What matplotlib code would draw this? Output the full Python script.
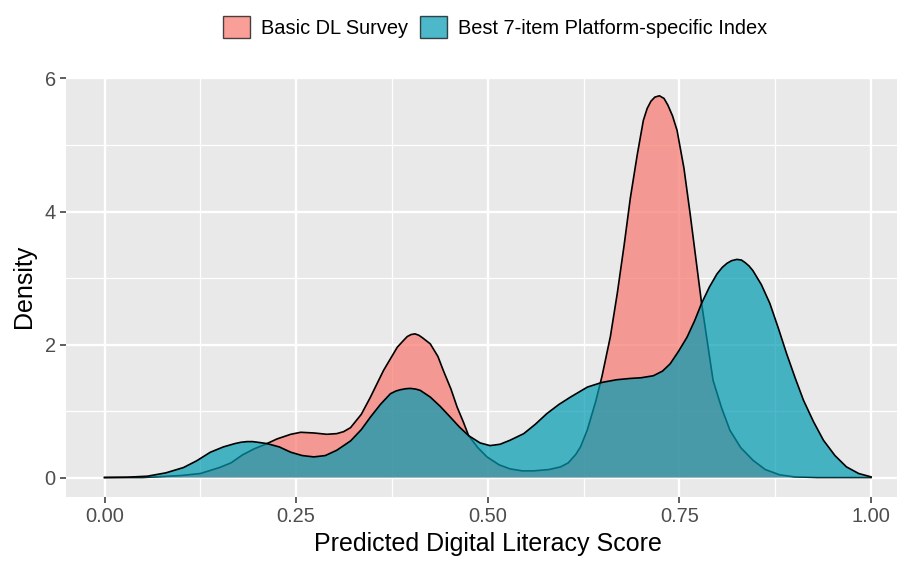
import matplotlib
matplotlib.use("Agg")
import matplotlib.pyplot as plt
from matplotlib.patches import Patch
import numpy as np

plt.rcParams['font.family'] = ['Liberation Sans', 'DejaVu Sans']

series_names = ["Basic DL Survey", "Best 7-item Platform-specific Index"]

basic_x = [0.00, 0.05, 0.10, 0.125, 0.15, 0.165, 0.18, 0.195, 0.21, 0.225, 0.243, 0.256,
           0.273, 0.29, 0.303, 0.312, 0.321, 0.335, 0.347, 0.364, 0.382, 0.390, 0.395, 0.400,
           0.405, 0.410, 0.415, 0.425, 0.435, 0.442, 0.452, 0.460, 0.468, 0.475, 0.487,
           0.499, 0.515, 0.529, 0.545, 0.56, 0.58, 0.595, 0.605, 0.615, 0.621, 0.63, 0.641,
           0.649, 0.66, 0.669, 0.678, 0.686, 0.695, 0.703, 0.708, 0.713, 0.718, 0.724,
           0.730, 0.735, 0.741, 0.747, 0.756, 0.764, 0.772, 0.779, 0.787, 0.794, 0.805,
           0.816, 0.83, 0.846, 0.862, 0.881, 0.90, 0.93, 1.00]
basic_y = [0.00, 0.00, 0.03, 0.06, 0.15, 0.22, 0.34, 0.43, 0.50, 0.58, 0.65, 0.68,
           0.67, 0.65, 0.66, 0.69, 0.75, 0.95, 1.21, 1.61, 1.96, 2.06, 2.12, 2.15,
           2.16, 2.14, 2.10, 2.01, 1.82, 1.61, 1.33, 1.06, 0.84, 0.63, 0.45,
           0.31, 0.19, 0.13, 0.10, 0.10, 0.12, 0.16, 0.22, 0.35, 0.46, 0.72, 1.15,
           1.52, 2.12, 2.77, 3.50, 4.20, 4.85, 5.37, 5.55, 5.66, 5.72, 5.74,
           5.70, 5.60, 5.44, 5.22, 4.65, 3.97, 3.25, 2.62, 2.00, 1.46, 1.05,
           0.71, 0.45, 0.26, 0.12, 0.04, 0.01, 0.00, 0.00]

index_x = [0.00, 0.03, 0.056, 0.08, 0.103, 0.12, 0.138, 0.155, 0.17, 0.178, 0.186, 0.193,
           0.20, 0.212, 0.228, 0.243, 0.258, 0.273, 0.288, 0.303, 0.321, 0.335, 0.347, 0.36,
           0.373, 0.380, 0.386, 0.393, 0.399, 0.406, 0.412, 0.425, 0.438, 0.451, 0.463,
           0.475, 0.49, 0.503, 0.516, 0.529, 0.547, 0.562, 0.577, 0.593, 0.608, 0.63, 0.649,
           0.668, 0.686, 0.70, 0.716, 0.728, 0.738, 0.749, 0.760, 0.770, 0.779, 0.789,
           0.799, 0.806, 0.812, 0.818, 0.825, 0.831, 0.836, 0.841, 0.846, 0.857, 0.868,
           0.879, 0.890, 0.901, 0.912, 0.925, 0.938, 0.953, 0.968, 0.984, 1.00]
index_y = [0.00, 0.005, 0.02, 0.07, 0.15, 0.25, 0.38, 0.46, 0.51, 0.53, 0.54, 0.54,
           0.53, 0.51, 0.46, 0.38, 0.33, 0.31, 0.33, 0.41, 0.55, 0.72, 0.91, 1.10,
           1.26, 1.30, 1.32, 1.335, 1.34, 1.33, 1.31, 1.21, 1.07, 0.91, 0.76,
           0.63, 0.52, 0.48, 0.50, 0.56, 0.66, 0.80, 0.96, 1.10, 1.21, 1.36, 1.43,
           1.47, 1.49, 1.50, 1.53, 1.60, 1.71, 1.90, 2.11, 2.36, 2.62, 2.86,
           3.06, 3.16, 3.22, 3.26, 3.28, 3.27, 3.23, 3.18, 3.11, 2.90, 2.62,
           2.25, 1.86, 1.50, 1.16, 0.84, 0.56, 0.33, 0.16, 0.06, 0.01]

x_ticks = [0.00, 0.25, 0.50, 0.75, 1.00]
x_tick_labels = ["0.00", "0.25", "0.50", "0.75", "1.00"]
y_ticks = [0, 2, 4, 6]
y_tick_labels = ["0", "2", "4", "6"]

W, H = 897, 563
fig = plt.figure(figsize=(W / 100, H / 100), dpi=100)
left, right, top, bottom = 66.2, 909.3, 76.7, 496.6
ax = fig.add_axes([left / W, 1 - bottom / H, (right - left) / W, (bottom - top) / H])
ax.set_facecolor("#E9E9E9")
ax.set_xlim(-0.05, 1.05)
ax.set_ylim(-0.287, 6.027)

# grid
for v in [0.125, 0.375, 0.625, 0.875]:
    ax.axvline(v, color="white", lw=0.9, zorder=0.5)
for v in [1, 3, 5]:
    ax.axhline(v, color="white", lw=0.9, zorder=0.5)
for v in x_ticks:
    ax.axvline(v, color="white", lw=1.7, zorder=0.6)
for v in y_ticks:
    ax.axhline(v, color="white", lw=1.7, zorder=0.6)

red = "#F8766D"
teal = "#009BB2"
ax.fill_between(basic_x, basic_y, 0, facecolor=red, alpha=0.7, lw=0, zorder=1)
ax.plot(basic_x, basic_y, color="black", lw=1.2, zorder=1.1, solid_joinstyle="round")
ax.fill_between(index_x, index_y, 0, facecolor=teal, alpha=0.7, lw=0, zorder=2)
ax.plot(index_x, index_y, color="black", lw=1.2, zorder=2.1, solid_joinstyle="round")

for s in ax.spines.values():
    s.set_visible(False)
ax.set_xticks(x_ticks)
ax.set_xticklabels(x_tick_labels)
ax.set_yticks(y_ticks)
ax.set_yticklabels(y_tick_labels)
ax.tick_params(axis="both", length=4.5, width=1.1, color="#333333",
               labelcolor="#4D4D4D", labelsize=14.4, pad=3)
ax.set_xlabel("Predicted Digital Literacy Score", fontsize=18, color="black", labelpad=4)
ax.set_ylabel("Density", fontsize=18, color="black", labelpad=6)

handles = [Patch(facecolor=red, alpha=0.7, edgecolor="black", lw=1.0),
           Patch(facecolor=teal, alpha=0.7, edgecolor="black", lw=1.0)]
leg = fig.legend(handles, series_names, loc="center", bbox_to_anchor=(495 / W, 1 - 27 / H),
                 ncol=2, frameon=False, fontsize=14.4, handlelength=1.35, handleheight=1.35,
                 handletextpad=0.55, columnspacing=0.6, borderaxespad=0)
for t in leg.get_texts():
    t.set_color("black")

fig.savefig("out.png", dpi=100)
